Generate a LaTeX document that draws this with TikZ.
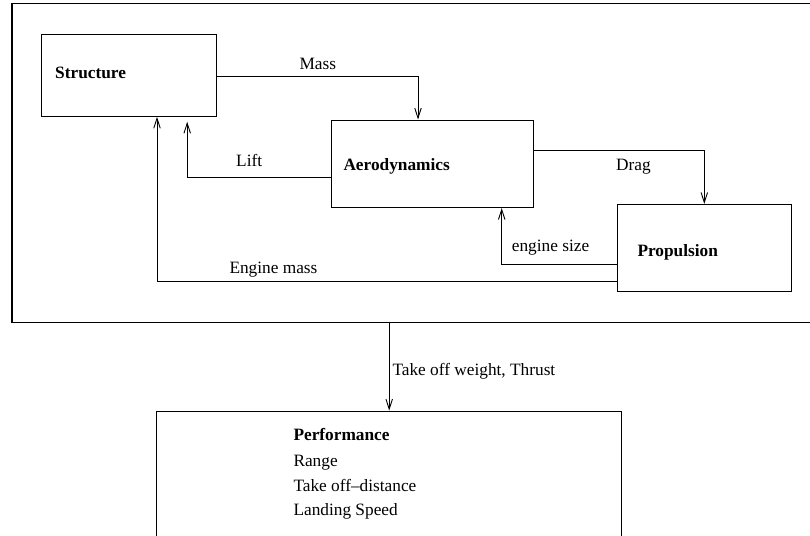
\documentclass[tikz,border=0pt]{standalone}
\usepackage{fontspec}
\setmainfont{Liberation Serif}
\usetikzlibrary{arrows.meta,calc}
\begin{document}
\begin{tikzpicture}[x=1pt,y=-1pt,
  every node/.style={font=\fontsize{17.3}{20}\selectfont},
  box/.style={draw, line width=0.9pt, inner sep=0pt, fill=none},
  txt/.style={inner sep=0pt, anchor=base west},
  ttl/.style={txt, font=\fontsize{17.3}{20}\selectfont\bfseries},
  flow/.style={line width=0.9pt, -{Straight Barb[length=10pt,width=6.5pt,line width=0.9pt]}},
]
\useasboundingbox (0,0) rectangle (810,535);
\clip (0,0) rectangle (810,535);

% system frame (runs off the right edge)
\node[box, line width=1.2pt, minimum width=828pt, minimum height=318.8pt] (sys) at (426,162.9) {};

% discipline boxes
\node[box, minimum width=175pt, minimum height=82.3pt] (struct) at (129.2,75.2) {};
\node[box, minimum width=202pt, minimum height=87.7pt] (aero) at (432,163.8) {};
\node[box, minimum width=173.3pt, minimum height=86.7pt] (prop) at (704.3,247.7) {};
\node[box, minimum width=465pt, minimum height=149pt] (perf) at (389.2,485.5) {};

% box titles
\node[ttl] (tstruct) at (55,78) {Structure};
\node[ttl] (taero) at (343.3,170) {Aerodynamics};
\node[ttl] (tprop) at (637.3,256.7) {Propulsion};
\node[ttl] (tperf) at (293.3,440) {Performance};
\node[txt] (range) at (293.3,466.5) {Range};
\node[txt] (todist) at (293.3,491) {Take off--distance};
\node[txt] (land) at (293.3,515.5) {Landing Speed};

% couplings
\draw[flow] ([yshift=-1.5pt]struct.east) -| ([xshift=-14pt]aero.north);
\draw[flow, shorten >=5pt] ([yshift=-14pt]aero.west) -| ([xshift=58pt]struct.south);
\draw[flow] ([yshift=13.8pt]aero.east) -| (prop.north);
\draw[flow] ([yshift=-16.3pt]prop.west) -| ([xshift=69.7pt]aero.south);
\draw[flow] ([yshift=-33.3pt]prop.west) -| ([xshift=27.8pt]struct.south);
\draw[flow] (sys.south -| perf.north) -- (perf.north);

% connector labels
\node[txt] (lmass) at (299.3,69) {Mass};
\node[txt] (llift) at (236,166) {Lift};
\node[txt] (ldrag) at (616,170.5) {Drag};
\node[txt] (lsize) at (511.7,251.7) {engine size};
\node[txt] (lemass) at (229.3,273.3) {Engine mass};
\node[txt] (ltow) at (392.3,375) {Take off weight, Thrust};
\end{tikzpicture}
\end{document}
